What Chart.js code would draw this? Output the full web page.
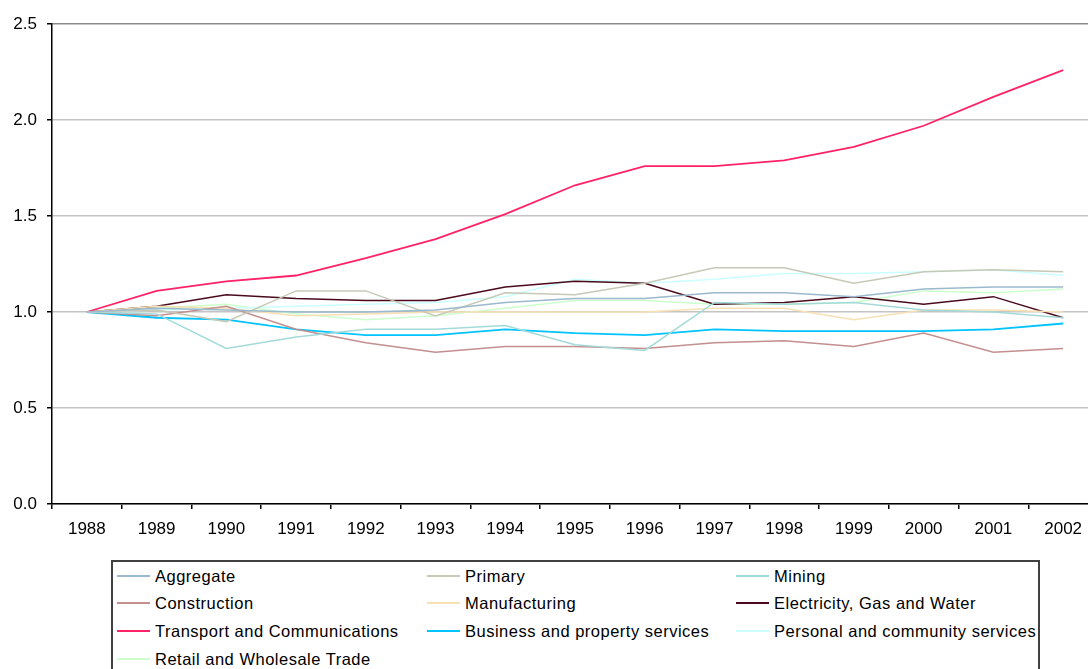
<!DOCTYPE html>
<html>
<head>
<meta charset="utf-8">
<script src="https://cdn.jsdelivr.net/npm/chart.js@4.4.0/dist/chart.umd.min.js"></script>
<style>
  html, body { margin: 0; padding: 0; background: #fff; overflow: hidden; width: 1088px; height: 669px; }
  #wrap { position: absolute; left: 0; top: 0; width: 1100px; height: 546px; }
  #legend {
    position: absolute; left: 111px; top: 560px; width: 929px; height: 130px;
    border: 2px solid #404040; box-sizing: border-box;
    font-family: "Liberation Sans", Arial, sans-serif; font-size: 16.5px; letter-spacing: 0.5px; color: #000;
  }
  .item { position: absolute; height: 20px; line-height: 20px; white-space: nowrap; }
  .item .swatch { position: absolute; left: 0; top: 9px; width: 33px; height: 2px; }
  .item .txt { position: absolute; left: 38px; top: 0; }
</style>
</head>
<body>
<div id="wrap"><canvas id="chart" width="1100" height="546"></canvas></div>
<div id="legend"></div>
<script>
const years = ["1988","1989","1990","1991","1992","1993","1994","1995","1996","1997","1998","1999","2000","2001","2002"];
const yTicks = [0.0, 0.5, 1.0, 1.5, 2.0, 2.5];

const aggregate     = [1.00, 1.02, 1.01, 1.00, 1.00, 1.01, 1.05, 1.07, 1.07, 1.10, 1.10, 1.08, 1.12, 1.13, 1.13];
const primary       = [1.00, 1.01, 0.95, 1.11, 1.11, 0.98, 1.10, 1.09, 1.15, 1.23, 1.23, 1.15, 1.21, 1.22, 1.21];
const mining        = [1.00, 0.99, 0.81, 0.87, 0.91, 0.91, 0.93, 0.83, 0.80, 1.05, 1.04, 1.05, 1.01, 1.00, 0.97];
const construction  = [1.00, 0.98, 1.03, 0.91, 0.84, 0.79, 0.82, 0.82, 0.81, 0.84, 0.85, 0.82, 0.89, 0.79, 0.81];
const manufacturing = [1.00, 1.03, 1.02, 0.98, 0.99, 1.00, 1.00, 1.00, 1.00, 1.02, 1.02, 0.96, 1.01, 1.01, 1.00];
const electricity   = [1.00, 1.03, 1.09, 1.07, 1.06, 1.06, 1.13, 1.16, 1.15, 1.04, 1.05, 1.08, 1.04, 1.08, 0.97];
const transport     = [1.00, 1.11, 1.16, 1.19, 1.28, 1.38, 1.51, 1.66, 1.76, 1.76, 1.79, 1.86, 1.97, 2.12, 2.26];
const business      = [1.00, 0.97, 0.96, 0.91, 0.88, 0.88, 0.91, 0.89, 0.88, 0.91, 0.90, 0.90, 0.90, 0.91, 0.94];
const personal      = [1.00, 1.01, 1.02, 1.03, 1.04, 1.05, 1.08, 1.17, 1.15, 1.17, 1.20, 1.20, 1.21, 1.22, 1.19];
const retail        = [1.00, 1.02, 1.04, 0.99, 0.96, 0.98, 1.02, 1.06, 1.06, 1.04, 1.04, 1.05, 1.11, 1.10, 1.12];

const series = [
  { label: "Aggregate", data: aggregate, color: "#9bb9cd", width: 1.5 },
  { label: "Primary", data: primary, color: "#c6c9b6", width: 1.5 },
  { label: "Mining", data: mining, color: "#a3dad9", width: 1.5 },
  { label: "Construction", data: construction, color: "#c48f8f", width: 1.5 },
  { label: "Manufacturing", data: manufacturing, color: "#f7e0b4", width: 1.5 },
  { label: "Electricity, Gas and Water", data: electricity, color: "#4a0a1c", width: 1.5 },
  { label: "Transport and Communications", data: transport, color: "#ff2266", width: 1.8 },
  { label: "Business and property services", data: business, color: "#00c3ff", width: 1.8 },
  { label: "Personal and community services", data: personal, color: "#ccffff", width: 1.5 },
  { label: "Retail and Wholesale Trade", data: retail, color: "#ccffcc", width: 1.5 }
];

const font = { family: "'Liberation Sans', Arial, sans-serif", size: 17 };

new Chart(document.getElementById("chart"), {
  type: "line",
  data: {
    labels: years,
    datasets: series.map(s => ({
      label: s.label,
      data: s.data,
      borderColor: s.color,
      backgroundColor: s.color,
      borderWidth: s.width,
      pointRadius: 0,
      tension: 0,
      fill: false
    }))
  },
  options: {
    responsive: false,
    animation: false,
    layout: { padding: { top: 24, right: 2, left: 0, bottom: 0 } },
    plugins: { legend: { display: false }, tooltip: { enabled: false } },
    scales: {
      x: {
        offset: true,
        grid: { offset: true, drawOnChartArea: false, drawTicks: true, tickLength: 5, color: "#000", lineWidth: 1.5 },
        border: { color: "#000", width: 1.5 },
        ticks: { color: "#000", font: font, padding: 10, maxRotation: 0, autoSkip: false },
        afterFit: axis => { axis.height = 42; }
      },
      y: {
        min: 0, max: 2.5,
        afterBuildTicks: axis => { axis.ticks = yTicks.map(v => ({ value: v })); },
        grid: {
          color: ctx => (ctx.tick && ctx.tick.value === 2.5) ? "#8c8c8c" : "#c4c4c4",
          lineWidth: 1.5,
          tickColor: "#000",
          tickLength: 5
        },
        border: { color: "#000", width: 1.5 },
        ticks: { color: "#000", font: font, padding: 10, callback: v => Number(v).toFixed(1) },
        afterFit: axis => { axis.width = 52; }
      }
    }
  }
});

// legend box, three columns filled row by row
const legend = document.getElementById("legend");
const colX = [4, 314, 623];
series.forEach((s, i) => {
  const item = document.createElement("div");
  item.className = "item";
  item.style.left = colX[i % 3] + "px";
  item.style.top = (3.5 + Math.floor(i / 3) * 27.8) + "px";
  item.innerHTML = '<span class="swatch" style="background:' + s.color + '"></span><span class="txt">' + s.label + '</span>';
  legend.appendChild(item);
});
</script>
</body>
</html>
